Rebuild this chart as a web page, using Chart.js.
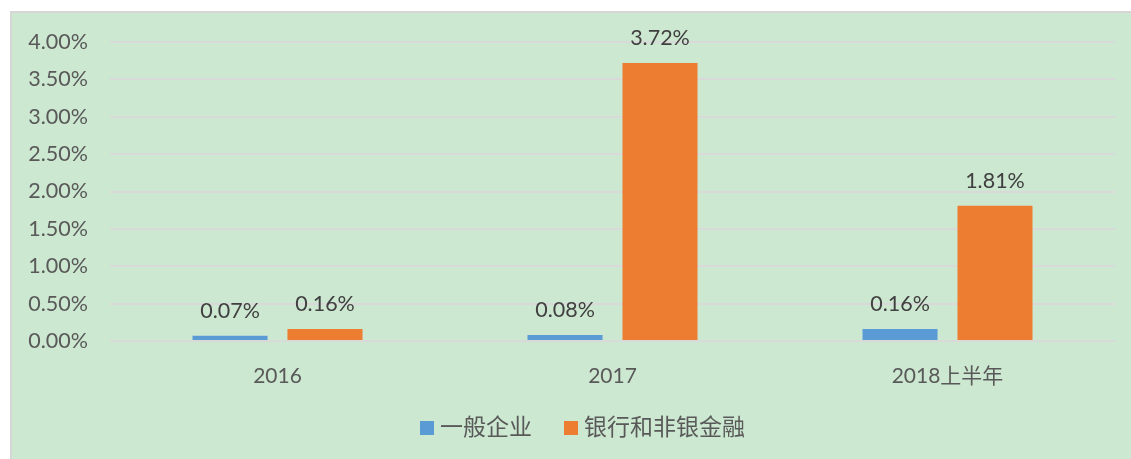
<!DOCTYPE html>
<html>
<head>
<meta charset="utf-8">
<script src="https://cdn.jsdelivr.net/npm/chart.js@4"></script>
<style>
  body { margin: 0; background: #fff; }
  #wrap {
    position: absolute; left: 10px; top: 11px; width: 1119px; height: 446px;
    background: #cde8d1; border-left: 2px solid #d6d6d6; border-top: 2px solid #d6d6d6;
  }
</style>
</head>
<body>
<div id="wrap"><canvas id="chart" width="1119" height="446"></canvas></div>
<script>
// data
const categories = ['2016', '2017', '2018上半年'];
const generalCorp = [0.07, 0.08, 0.16];
const bankNonBank = [0.16, 3.72, 1.81];
const seriesNames = ['一般企业', '银行和非银金融'];

const FONT = 'Lato, "Noto Sans CJK SC", sans-serif';

// value labels over each bar
const valueLabels = {
  id: 'valueLabels',
  afterDatasetsDraw(chart) {
    const ctx = chart.ctx;
    ctx.save();
    ctx.font = '21.5px ' + FONT;
    ctx.fillStyle = '#404040';
    ctx.textAlign = 'center';
    ctx.textBaseline = 'middle';
    chart.data.datasets.forEach((ds, i) => {
      chart.getDatasetMeta(i).data.forEach((bar, j) => {
        ctx.fillText(ds.data[j].toFixed(2) + '%', bar.x, bar.y - 25);
      });
    });
    ctx.restore();
  }
};

// excel-style legend, drawn in the reserved bottom padding
const excelLegend = {
  id: 'excelLegend',
  afterDraw(chart) {
    const ctx = chart.ctx;
    ctx.save();
    ctx.font = '23px ' + FONT;
    ctx.textBaseline = 'middle';
    const box = 14, gap = 6, itemGap = 32;
    const items = chart.data.datasets.map(ds => ({
      text: ds.label, color: ds.backgroundColor, w: box + gap + ctx.measureText(ds.label).width
    }));
    const total = items.reduce((a, it) => a + it.w, 0) + itemGap * (items.length - 1);
    let x = chart.width / 2 + 11 - total / 2;
    const y = 415;
    items.forEach(it => {
      ctx.fillStyle = it.color;
      ctx.fillRect(x, y - box / 2, box, box);
      ctx.fillStyle = '#595959';
      ctx.fillText(it.text, x + box + gap, y);
      x += it.w + itemGap;
    });
    ctx.restore();
  }
};

new Chart(document.getElementById('chart'), {
  type: 'bar',
  data: {
    labels: categories,
    datasets: [{
      label: seriesNames[0],
      data: generalCorp,
      backgroundColor: '#5b9bd5'
    }, {
      label: seriesNames[1],
      data: bankNonBank,
      backgroundColor: '#ed7d31'
    }]
  },
  options: {
    responsive: false,
    animation: false,
    categoryPercentage: 0.567,
    barPercentage: 0.79,
    layout: { padding: { top: 29, right: 16, left: 0, bottom: 66 } },
    plugins: {
      tooltip: { enabled: false },
      legend: { display: false }
    },
    scales: {
      x: {
        afterFit: (s) => { s.height = 52; },
        grid: { display: false },
        border: { display: false },
        ticks: { color: '#595959', padding: 15, font: { size: 21, family: FONT } }
      },
      y: {
        min: 0, max: 4,
        afterFit: (s) => { s.width = 98; s.paddingTop = 0; s.paddingBottom = 0; },
        grid: { color: '#d9d9d9', lineWidth: 2, drawTicks: false },
        border: { display: false },
        ticks: {
          stepSize: 0.5, padding: 22, color: '#595959',
          font: { size: 21.5, family: FONT },
          callback: (v) => v.toFixed(2) + '%'
        }
      }
    }
  },
  plugins: [valueLabels, excelLegend]
});
</script>
</body>
</html>
